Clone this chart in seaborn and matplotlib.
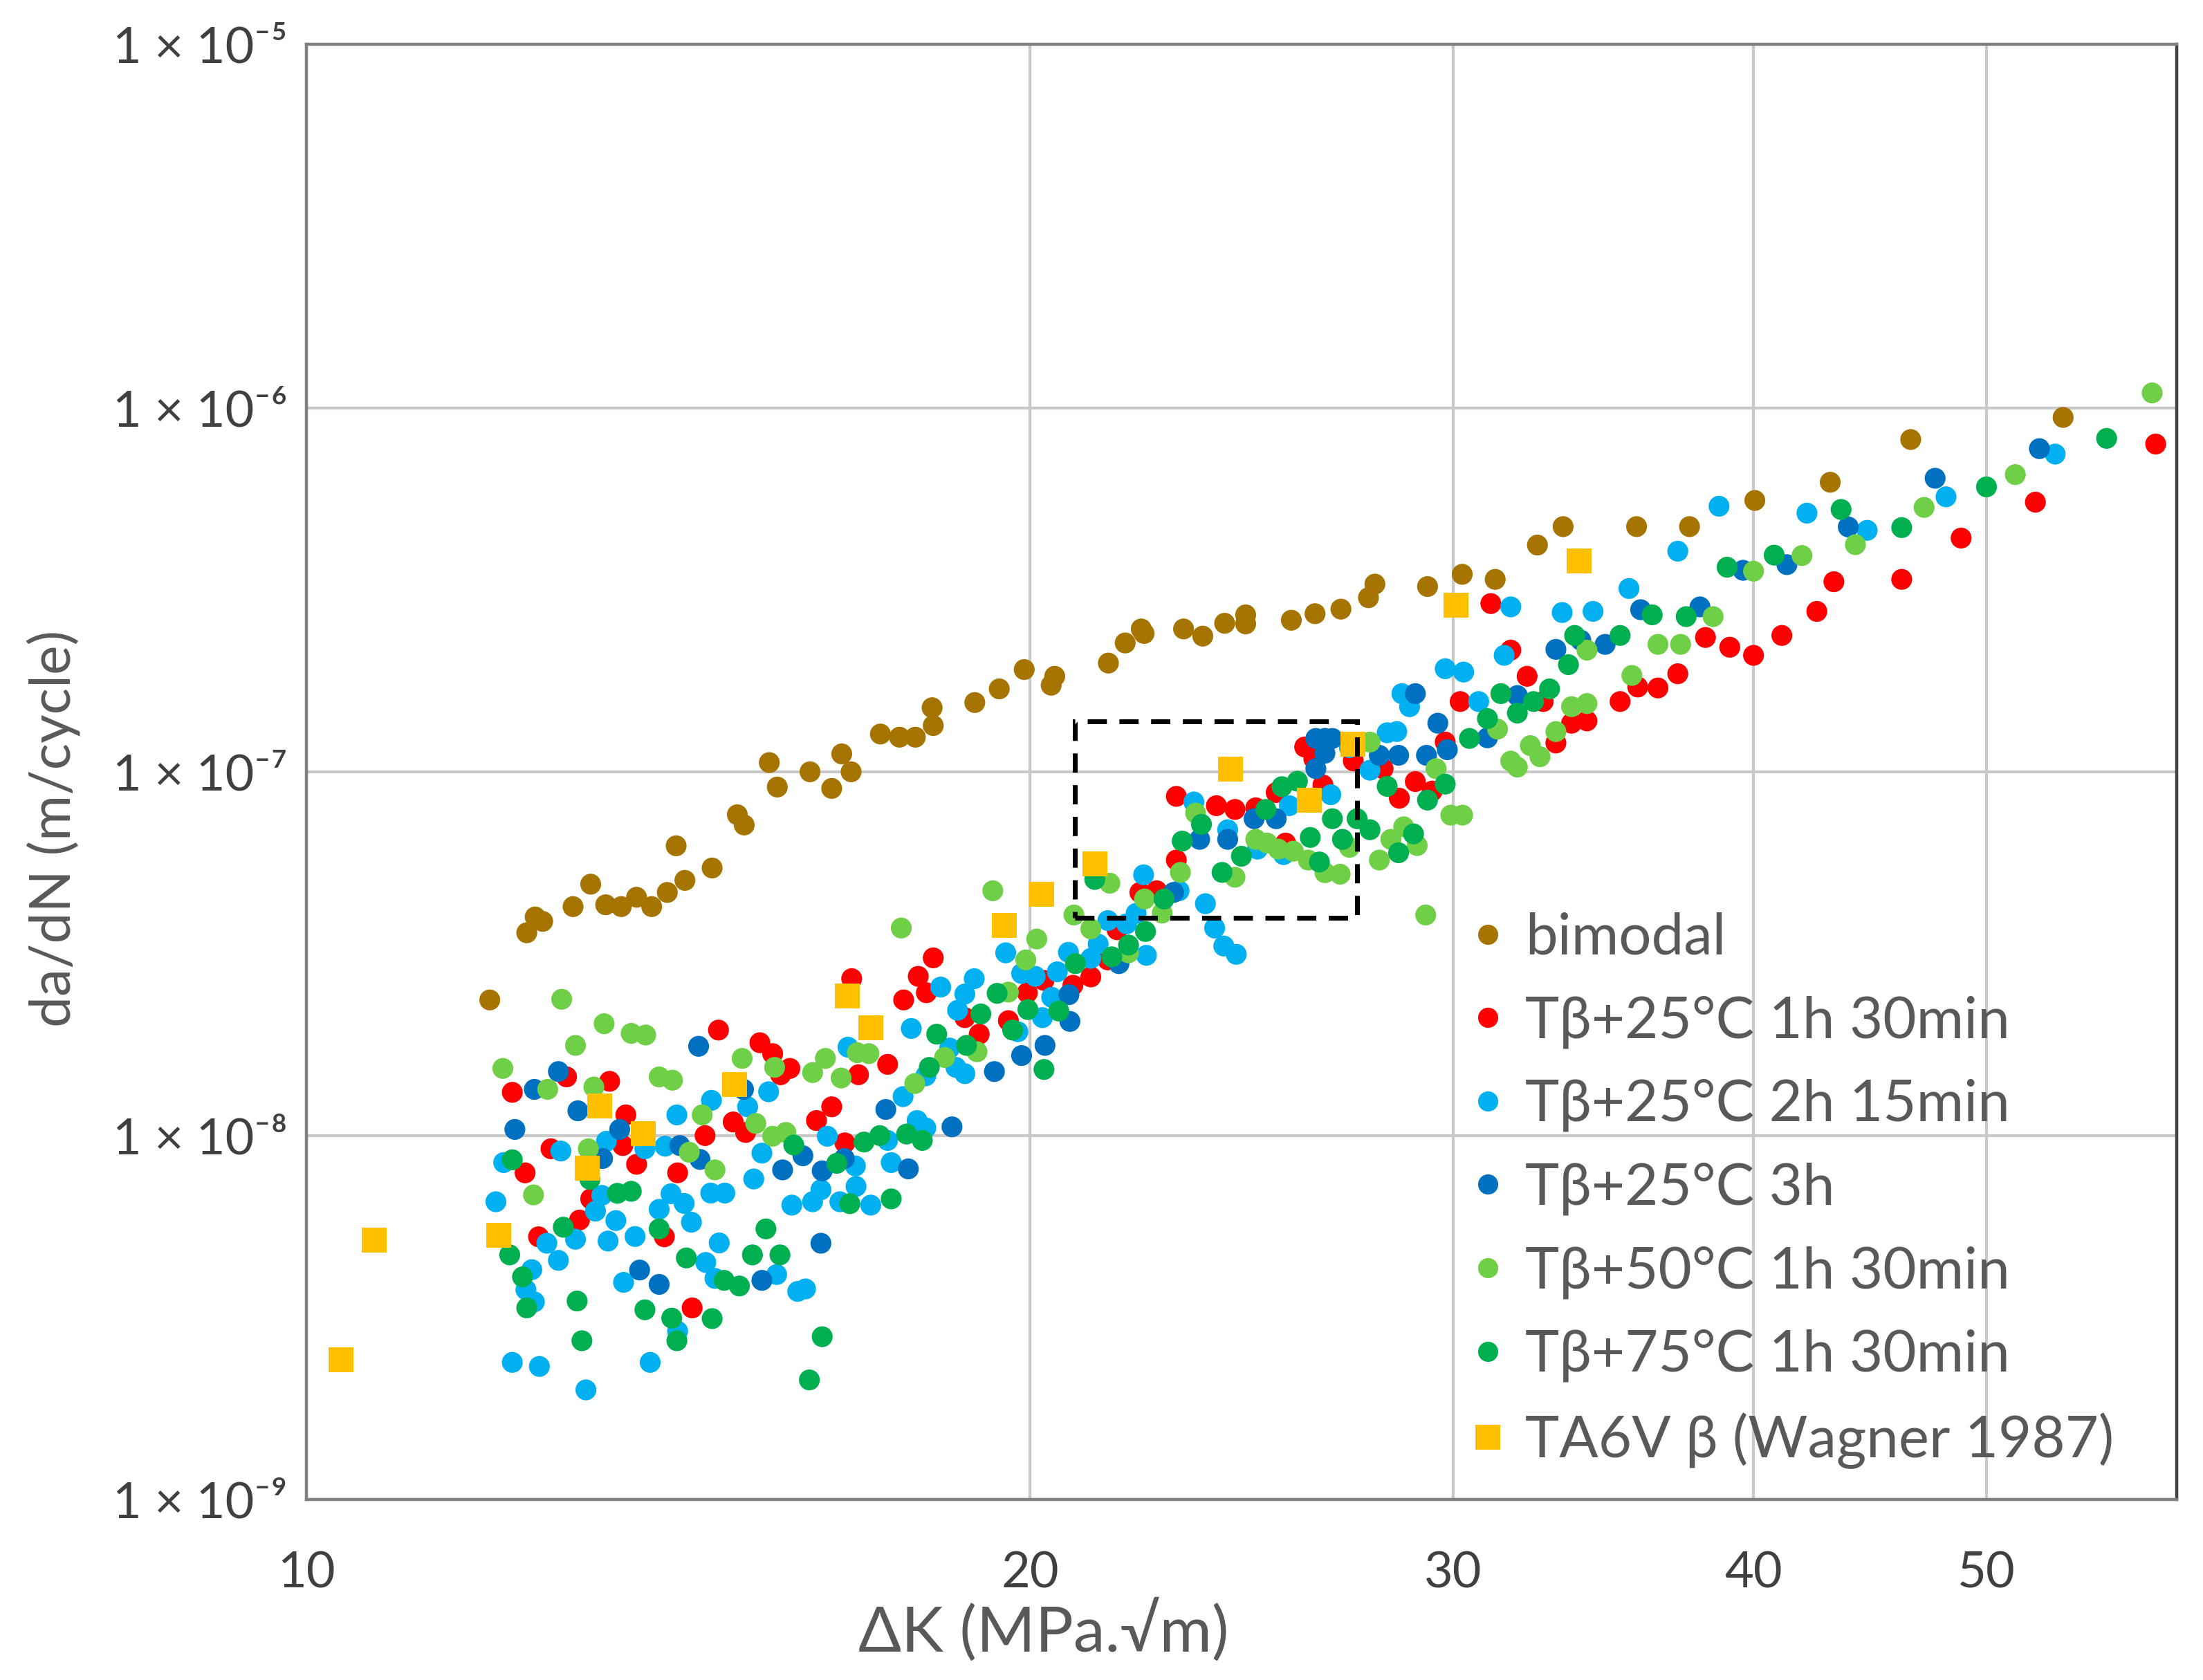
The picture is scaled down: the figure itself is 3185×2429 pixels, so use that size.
import matplotlib
matplotlib.use("Agg")
import matplotlib.pyplot as plt
from matplotlib.lines import Line2D
from matplotlib.patches import Rectangle
from matplotlib.ticker import NullLocator
import pandas as pd
import seaborn as sns

# values: dK in MPa.sqrt(m), da/dN in m/cycle

bimodal_dk = [11.92, 12.35, 12.45, 12.54, 12.91, 13.13, 13.32, 13.52, 13.72, 13.92,
              14.13, 14.25, 14.37, 14.75, 15.11, 15.21, 15.58, 15.70, 16.20, 16.54,
              16.70, 16.85, 17.33, 17.65, 17.92, 18.21, 18.23, 18.97, 19.42, 19.89,
              20.41, 20.48, 21.56, 21.91, 22.25, 22.31, 23.17, 23.60, 24.10, 24.59,
              24.59, 25.69, 26.28, 26.94, 27.66, 27.83, 29.27, 30.26, 31.23, 32.52,
              33.33, 35.76, 37.62, 40.05, 43.05, 46.50, 53.81]
bimodal_da = [2.36e-8, 3.61e-8, 3.99e-8, 3.88e-8, 4.26e-8, 4.91e-8, 4.31e-8, 4.26e-8, 4.52e-8, 4.26e-8,
              4.66e-8, 6.26e-8, 5.03e-8, 5.44e-8, 7.62e-8, 7.14e-8, 1.06e-7, 9.08e-8, 1.00e-7, 9.0e-8,
              1.12e-7, 1.00e-7, 1.27e-7, 1.245e-7, 1.245e-7, 1.50e-7, 1.34e-7, 1.55e-7, 1.69e-7, 1.91e-7,
              1.73e-7, 1.83e-7, 1.99e-7, 2.26e-7, 2.47e-7, 2.40e-7, 2.47e-7, 2.36e-7, 2.56e-7, 2.70e-7,
              2.55e-7, 2.61e-7, 2.72e-7, 2.80e-7, 3.01e-7, 3.28e-7, 3.23e-7, 3.49e-7, 3.38e-7, 4.20e-7,
              4.72e-7, 4.72e-7, 4.72e-7, 5.57e-7, 6.25e-7, 8.19e-7, 9.42e-7]

t25_1h30_dk = [12.18, 12.83, 13.37, 13.58, 12.33, 12.64, 13.54, 13.72, 14.27, 12.99,
               12.49, 14.09, 14.84, 15.44, 15.63, 15.89, 15.75, 14.65, 15.05, 15.23,
               14.47, 16.30, 16.54, 16.75, 16.97, 17.45, 16.86, 13.13,
               18.23, 17.97, 18.11, 17.72, 18.79, 19.05, 19.59, 19.95, 20.27, 20.84,
               21.20, 21.55, 21.74, 22.22, 22.58,
               26.02, 26.25, 27.26, 28.05, 30.20, 29.77, 28.93, 29.40, 28.49, 26.48,
               25.32, 25.55, 23.91, 24.34, 24.83, 23.01, 23.01,
               58.8, 52.4, 48.8, 46.1, 43.2, 42.5, 41.1, 40.0, 39.1, 38.2,
               37.2, 36.5, 35.8, 35.2, 34.1, 33.6, 33.1, 31.7, 32.2, 31.1, 32.7]
t25_1h30_da = [1.315e-8, 1.45e-8, 1.41e-8, 1.14e-8, 7.9e-9, 9.2e-9, 9.39e-9, 8.34e-9, 7.9e-9, 5.86e-9,
               5.27e-9, 5.27e-9, 1.95e-8, 1.80e-8, 1.68e-8, 1.53e-8, 1.47e-8, 1.0e-8, 1.09e-8, 1.02e-8,
               3.36e-9, 1.10e-8, 1.20e-8, 9.55e-9, 1.47e-8, 1.57e-8, 2.70e-8, 6.7e-9,
               3.08e-8, 2.74e-8, 2.47e-8, 2.36e-8, 2.11e-8, 1.90e-8, 2.07e-8, 2.47e-8, 2.67e-8, 2.59e-8,
               2.73e-8, 3.04e-8, 3.68e-8, 4.66e-8, 4.71e-8,
               1.17e-7, 1.085e-7, 1.072e-7, 1.02e-7, 1.56e-7, 1.207e-7, 9.4e-8, 8.85e-8, 8.46e-8, 9.2e-8,
               8.77e-8, 6.37e-8, 8.07e-8, 7.88e-8, 7.96e-8, 8.56e-8, 5.72e-8,
               7.96e-7, 5.51e-7, 4.39e-7, 3.38e-7, 3.33e-7, 2.76e-7, 2.37e-7, 2.09e-7, 2.20e-7, 2.34e-7,
               1.86e-7, 1.70e-7, 1.71e-7, 1.56e-7, 1.38e-7, 1.36e-7, 1.20e-7, 2.16e-7, 1.83e-7, 2.90e-7, 1.56e-7]

t25_2h15_dk = [11.99, 12.08, 12.76, 13.33, 13.19, 13.27, 13.45, 13.35, 13.70, 14.02,
               14.26, 14.10, 14.18, 14.36, 14.46, 14.74, 15.26, 15.57, 14.73, 14.93,
               15.35, 15.47, 14.85, 14.66, 14.79, 15.69, 16.01, 16.13, 15.92, 16.24,
               16.37, 16.47, 16.80, 16.92, 16.67, 16.93, 17.17, 17.51, 17.45, 12.18,
               12.50, 13.07, 13.90, 14.27, 13.55, 12.59, 12.73, 12.94, 12.41, 12.34,
               12.44, 13.83,
               18.36, 18.96, 18.79, 18.66, 17.85, 19.77, 19.54, 19.84, 20.10, 20.24,
               20.42, 20.53, 20.75, 21.20, 21.35, 21.55, 21.94, 22.36, 22.14, 22.30,
               23.07, 23.66, 23.87, 24.08, 24.37, 18.63, 18.79, 18.52, 18.10, 17.71,
               17.95, 18.10,
               27.16, 27.70, 28.16, 28.42, 28.56, 28.77, 29.77, 30.30, 30.74, 26.68,
               25.64, 25.50, 24.87, 24.17, 23.40,
               53.4, 48.1, 44.6, 42.1, 38.7, 37.2, 35.5, 34.3, 33.3, 31.7, 31.5]
t25_2h15_da = [6.58e-9, 8.43e-9, 9.07e-9, 9.65e-9, 6.2e-9, 6.85e-9, 5.84e-9, 5.13e-9, 5.28e-9, 6.27e-9,
               1.14e-8, 9.35e-9, 6.92e-9, 6.51e-9, 5.78e-9, 1.25e-8, 1.20e-8, 1.32e-8, 6.95e-9, 6.95e-9,
               7.6e-9, 8.95e-9, 5.07e-9, 4.48e-9, 4.05e-9, 4.15e-9, 3.73e-9, 3.79e-9, 6.44e-9, 6.58e-9,
               7.1e-9, 9.96e-9, 1.75e-8, 8.25e-9, 6.58e-9, 7.25e-9, 6.44e-9, 8.43e-9, 9.7e-9, 2.38e-9,
               2.32e-9, 2.0e-9, 2.38e-9, 2.90e-9, 3.95e-9, 5.06e-9, 4.54e-9, 5.19e-9, 4.28e-9, 3.77e-9,
               3.49e-9, 9.2e-9,
               2.56e-8, 2.70e-8, 2.45e-8, 2.21e-8, 1.97e-8, 1.93e-8, 3.18e-8, 2.79e-8, 2.74e-8, 2.11e-8,
               2.40e-8, 2.82e-8, 3.19e-8, 3.07e-8, 3.36e-8, 3.90e-8, 3.82e-8, 3.13e-8, 4.08e-8, 5.21e-8,
               4.71e-8, 4.34e-8, 3.72e-8, 3.32e-8, 3.15e-8, 1.54e-8, 1.48e-8, 1.74e-8, 1.46e-8, 1.28e-8,
               1.10e-8, 1.05e-8,
               1.165e-7, 1.01e-7, 1.28e-7, 1.29e-7, 1.64e-7, 1.51e-7, 1.92e-7, 1.88e-7, 1.56e-7, 8.65e-8,
               8.07e-8, 5.92e-8, 6.13e-8, 6.93e-8, 8.26e-8,
               7.47e-7, 5.70e-7, 4.61e-7, 5.14e-7, 5.37e-7, 4.04e-7, 3.19e-7, 2.76e-7, 2.74e-7, 2.84e-7, 2.09e-7]

t25_3h_dk = [12.44, 12.73, 12.97, 12.21, 13.50, 13.28, 14.30, 14.58, 14.56, 15.20,
             15.78, 16.09, 16.39, 16.74, 17.42, 13.76, 14.02, 15.47, 16.37,
             20.78, 20.76, 21.78, 22.95, 19.33, 19.84, 20.29, 18.56, 17.80,
             26.30, 26.53, 26.72, 26.53, 26.30, 27.95, 28.47, 28.93, 29.56, 29.83,
             29.24, 25.32, 24.79, 24.17, 23.53,
             52.6, 47.6, 43.8, 41.3, 39.6, 38.0, 35.9, 34.7, 33.9, 33.1, 31.9, 31.0]
t25_3h_da = [1.34e-8, 1.50e-8, 1.17e-8, 1.04e-8, 1.04e-8, 8.65e-9, 9.39e-9, 8.6e-9, 1.76e-8, 1.34e-8,
             8.05e-9, 8.8e-9, 8.0e-9, 8.65e-9, 1.18e-8, 4.27e-9, 3.90e-9, 4.0e-9, 5.06e-9,
             2.06e-8, 2.44e-8, 2.97e-8, 4.66e-8, 1.50e-8, 1.66e-8, 1.77e-8, 1.057e-8, 8.1e-9,
             1.235e-7, 1.235e-7, 1.235e-7, 1.125e-7, 1.02e-7, 1.11e-7, 1.11e-7, 1.64e-7, 1.36e-7, 1.15e-7,
             1.11e-7, 7.43e-8, 7.43e-8, 6.52e-8, 6.52e-8,
             7.73e-7, 6.41e-7, 4.71e-7, 3.71e-7, 3.58e-7, 2.84e-7, 2.79e-7, 2.24e-7, 2.30e-7, 2.17e-7, 1.62e-7, 1.24e-7]

t50_1h30_dk = [12.77, 13.30, 13.65, 13.84, 12.94, 12.07, 12.60, 13.17, 14.02, 14.20,
               15.18, 15.66, 16.24, 16.44, 16.69, 16.95, 17.14, 14.61, 15.38, 15.63,
               15.83, 14.43, 14.79, 13.10, 12.43,
               17.68, 19.30, 20.13, 19.92, 20.86, 21.20, 29.22, 19.01, 18.43, 17.91,
               21.59, 23.10, 24.34, 26.92, 22.32, 22.70, 19.59, 21.98,
               27.70, 29.51, 29.93, 30.27, 28.61, 28.98, 28.26, 27.95, 27.16, 24.83,
               25.10, 25.37, 25.74, 26.11, 23.44, 26.53,
               58.6, 51.4, 47.1, 44.1, 41.9, 40.0, 38.48, 37.3, 36.5, 34.1,
               35.6, 34.1, 33.6, 33.1, 32.3, 32.6, 31.7, 31.9, 31.3]
t50_1h30_da = [2.37e-8, 2.03e-8, 1.91e-8, 1.89e-8, 1.77e-8, 1.53e-8, 1.34e-8, 1.36e-8, 1.45e-8, 1.42e-8,
               1.63e-8, 1.54e-8, 1.49e-8, 1.63e-8, 1.44e-8, 1.69e-8, 1.68e-8, 1.14e-8, 1.08e-8, 9.96e-9,
               1.02e-8, 9.0e-9, 8.05e-9, 9.2e-9, 6.87e-9,
               3.72e-8, 4.71e-8, 3.47e-8, 3.04e-8, 4.04e-8, 3.70e-8, 4.04e-8, 1.70e-8, 1.64e-8, 1.39e-8,
               4.94e-8, 5.29e-8, 5.13e-8, 5.23e-8, 4.47e-8, 4.09e-8, 2.48e-8, 3.18e-8,
               1.207e-7, 1.02e-7, 7.6e-8, 7.6e-8, 7.06e-8, 6.27e-8, 6.52e-8, 5.72e-8, 6.2e-8, 6.52e-8,
               6.37e-8, 6.13e-8, 6.05e-8, 5.72e-8, 7.7e-8, 5.28e-8,
               1.10e-6, 6.56e-7, 5.33e-7, 4.21e-7, 3.93e-7, 3.56e-7, 2.67e-7, 2.24e-7, 2.24e-7, 2.16e-7,
               1.84e-7, 1.54e-7, 1.51e-7, 1.29e-7, 1.18e-7, 1.10e-7, 1.07e-7, 1.03e-7, 1.31e-7]

t75_1h30_dk = [12.18, 13.12, 13.47, 13.65, 12.79, 12.15, 12.30, 12.35, 12.96, 13.02,
               13.83, 14.02, 14.19, 14.26, 14.39, 14.75, 14.92, 15.14, 15.33, 15.53,
               15.74, 15.95, 16.39, 16.19, 16.62, 16.83, 17.06, 17.32, 17.51,
               18.29, 19.08, 19.67, 19.38, 19.96, 20.56, 20.89, 21.63, 21.98, 22.34,
               22.74, 24.04, 21.28, 18.82, 18.16, 20.27, 17.77, 18.04,
               30.47, 29.77, 29.27, 28.16, 28.88, 28.47, 25.46, 25.84, 25.07, 26.72,
               27.36, 27.70, 26.98, 26.16, 26.39, 24.49, 23.57, 23.14,
               56.1, 50.0, 46.1, 43.5, 40.8, 39.0, 37.5, 36.3, 35.2, 33.7,
               33.5, 32.9, 32.4, 31.9, 31.4, 31.0]
t75_1h30_da = [8.58e-9, 7.58e-9, 6.94e-9, 7.03e-9, 5.60e-9, 4.70e-9, 4.09e-9, 3.36e-9, 3.51e-9, 2.73e-9,
               3.32e-9, 5.54e-9, 3.15e-9, 2.73e-9, 4.61e-9, 3.14e-9, 4.0e-9, 3.86e-9, 4.70e-9, 5.54e-9,
               4.70e-9, 9.42e-9, 2.80e-9, 2.13e-9, 8.39e-9, 6.50e-9, 9.6e-9, 1.0e-8, 6.7e-9,
               1.90e-8, 2.16e-8, 1.95e-8, 2.46e-8, 2.22e-8, 2.20e-8, 2.97e-8, 3.10e-8, 3.34e-8, 3.64e-8,
               4.47e-8, 5.29e-8, 5.06e-8, 1.77e-8, 1.54e-8, 1.52e-8, 1.01e-8, 9.7e-9,
               1.235e-7, 9.25e-8, 8.36e-8, 9.12e-8, 6.75e-8, 5.99e-8, 9.1e-8, 9.42e-8, 7.88e-8, 7.43e-8,
               7.43e-8, 6.93e-8, 6.52e-8, 6.6e-8, 5.65e-8, 5.86e-8, 7.17e-8, 6.45e-8,
               8.25e-7, 6.07e-7, 4.69e-7, 5.26e-7, 3.94e-7, 3.65e-7, 2.67e-7, 2.70e-7, 2.37e-7, 2.37e-7,
               1.97e-7, 1.69e-7, 1.56e-7, 1.45e-7, 1.64e-7, 1.40e-7]

wagner_dk = [10.34, 10.67, 12.02, 13.09, 13.24, 13.81, 15.07, 16.79, 17.17, 19.52,
             20.23, 21.28, 24.24, 26.14, 27.26, 30.07, 33.85]
wagner_da = [2.42e-9, 5.17e-9, 5.32e-9, 8.14e-9, 1.204e-8, 1.013e-8, 1.379e-8, 2.42e-8, 1.98e-8, 3.78e-8,
             4.60e-8, 5.58e-8, 1.018e-7, 8.36e-8, 1.192e-7, 2.87e-7, 3.80e-7]

labels = ["bimodal", "Tβ+25°C 1h 30min", "Tβ+25°C 2h 15min", "Tβ+25°C 3h",
          "Tβ+50°C 1h 30min", "Tβ+75°C 1h 30min", "TA6V β (Wagner 1987)"]
colors = ["#A67400", "#FF0000", "#00B0F0", "#0070C0", "#6FCF46", "#00B050", "#FFC000"]

x_ticks = [10, 20, 30, 40, 50]
y_ticks = [1e-9, 1e-8, 1e-7, 1e-6, 1e-5]
y_ticklabels = ["1 × 10⁻⁹", "1 × 10⁻⁸", "1 × 10⁻⁷", "1 × 10⁻⁶", "1 × 10⁻⁵"]

# dashed box around the zoomed region
box_dk = (20.88, 27.36)
box_da = (3.97e-8, 1.375e-7)

series = [(bimodal_dk, bimodal_da), (t25_1h30_dk, t25_1h30_da), (t25_2h15_dk, t25_2h15_da),
          (t25_3h_dk, t25_3h_da), (t50_1h30_dk, t50_1h30_da), (t75_1h30_dk, t75_1h30_da),
          (wagner_dk, wagner_da)]
df = pd.concat([pd.DataFrame({"dK": dk, "dadN": da, "series": lab})
                for (dk, da), lab in zip(series, labels)], ignore_index=True)

sns.set_style("white")
plt.rcParams["font.family"] = ["Lato", "DejaVu Sans"]

fig = plt.figure(figsize=(15.925, 12.145), dpi=200)
ax = fig.add_axes([0.1391, 0.1075, 0.849, 0.8662])

circles = df[df["series"] != labels[-1]]
squares = df[df["series"] == labels[-1]]
pal = dict(zip(labels, colors))
sns.scatterplot(data=circles, x="dK", y="dadN", hue="series", palette=pal,
                hue_order=labels[:-1], s=118, linewidth=0, legend=False, ax=ax, zorder=3)
sns.scatterplot(data=squares, x="dK", y="dadN", color=colors[-1], marker="s",
                s=175, linewidth=0, legend=False, ax=ax, zorder=4)

ax.set_xscale("log")
ax.set_yscale("log")
ax.set_xlim(10, 60)
ax.set_ylim(1e-9, 1e-5)
ax.set_xticks(x_ticks)
ax.set_xticklabels([str(t) for t in x_ticks])
ax.set_yticks(y_ticks)
ax.set_yticklabels(y_ticklabels)
ax.xaxis.set_minor_locator(NullLocator())
ax.yaxis.set_minor_locator(NullLocator())
ax.tick_params(axis="x", length=0, pad=27, labelsize=26, labelcolor="#404040")
ax.tick_params(axis="y", direction="in", length=9, width=1.5, color="#404040",
               pad=10, labelsize=26, labelcolor="#404040")
ax.grid(True, which="major", color="#C8C8C8", lw=1.5)
ax.set_axisbelow(True)
for side, sp in ax.spines.items():
    sp.set_visible(True)
    sp.set_color("#808080")
    sp.set_linewidth(1.6)
ax.spines["right"].set_color("#404040")

ax.add_patch(Rectangle((box_dk[0], box_da[0]), box_dk[1] - box_dk[0], box_da[1] - box_da[0],
                       fill=False, ec="black", lw=2.5, ls=(0, (4, 2.6)), zorder=6))

ax.set_xlabel("ΔK (MPa.√m)", fontsize=33, color="#595959")
ax.set_ylabel("da/dN (m/cycle)", fontsize=29, color="#595959")
ax.xaxis.set_label_coords(0.394, -0.068)
ax.yaxis.set_label_coords(-0.121, 0.461)

handles = [Line2D([], [], ls="", marker="s" if lab == labels[-1] else "o",
                  markersize=13 if lab == labels[-1] else 10.5, color=c, markeredgewidth=0)
           for lab, c in zip(labels, colors)]
ax.legend(handles, labels, loc="upper left", bbox_to_anchor=(0.624, 0.4035), frameon=False,
          fontsize=30, labelcolor="#595959", borderpad=0, borderaxespad=0,
          handlelength=0.5, handletextpad=0.4, labelspacing=0.53)

fig.savefig("out.png", dpi=200)
